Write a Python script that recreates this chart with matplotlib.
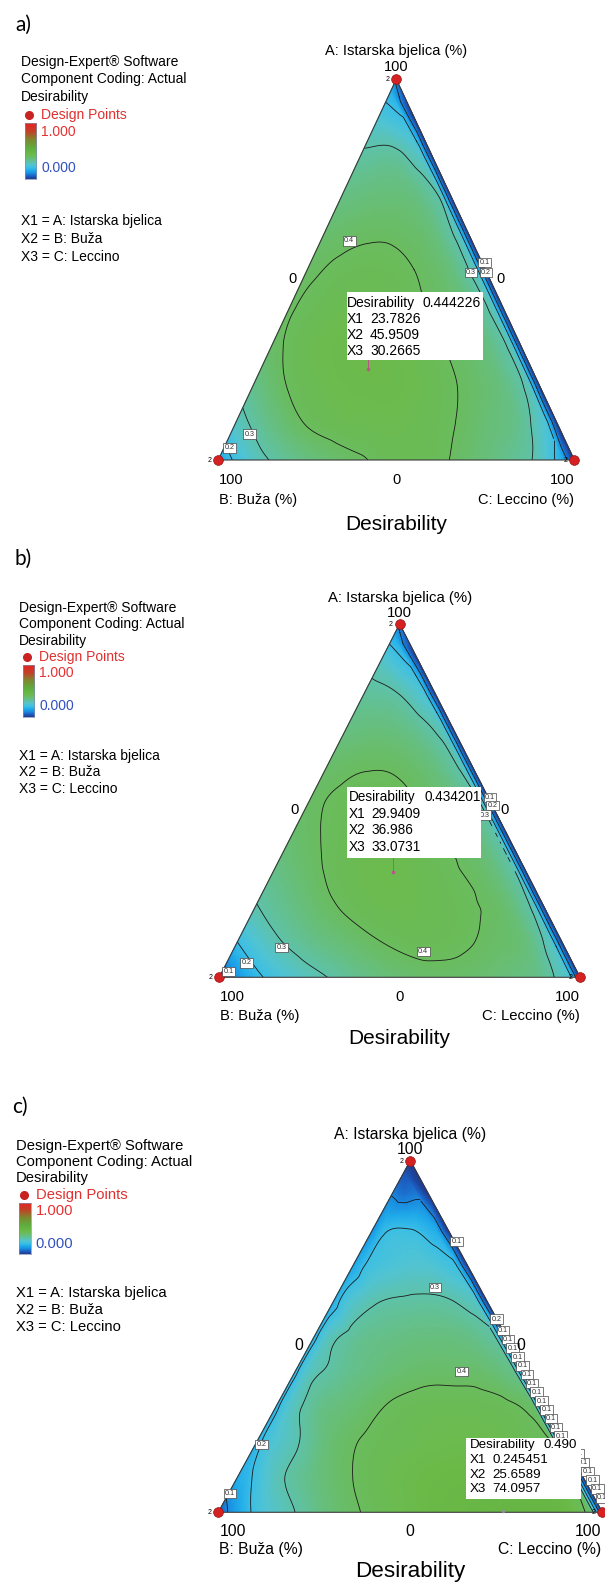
import numpy as np
import matplotlib
matplotlib.use("Agg")
import matplotlib.pyplot as plt
import matplotlib.tri as mtri
from matplotlib.colors import LinearSegmentedColormap
from matplotlib.patches import Rectangle

plt.rcParams['font.family'] = ['Liberation Sans', 'DejaVu Sans']

FIG_W, FIG_H = 605, 1588

# ---------------- data ----------------
# desirability on a 10 % simplex lattice:
# row i -> A = i/10, entry j -> C = j/10, B = 1 - A - C
desir_a = [
    [0.15, 0.27, 0.33, 0.37, 0.395, 0.42, 0.415, 0.38, 0.34, 0.28, 0.0],
    [0.27, 0.35, 0.405, 0.425, 0.43, 0.425, 0.405, 0.37, 0.33, 0.0],
    [0.34, 0.405, 0.43, 0.44, 0.44, 0.42, 0.39, 0.35, 0.0],
    [0.385, 0.425, 0.44, 0.44, 0.425, 0.395, 0.355, 0.0],
    [0.395, 0.42, 0.43, 0.42, 0.395, 0.36, 0.0],
    [0.39, 0.41, 0.415, 0.40, 0.36, 0.0],
    [0.375, 0.39, 0.39, 0.36, 0.0],
    [0.345, 0.36, 0.35, 0.0],
    [0.31, 0.315, 0.0],
    [0.24, 0.0],
    [0.08],
]
desir_b = [
    [0.05, 0.18, 0.255, 0.30, 0.34, 0.37, 0.385, 0.38, 0.36, 0.33, 0.0],
    [0.20, 0.285, 0.335, 0.37, 0.40, 0.415, 0.41, 0.39, 0.36, 0.0],
    [0.295, 0.345, 0.39, 0.42, 0.43, 0.42, 0.405, 0.37, 0.0],
    [0.34, 0.385, 0.42, 0.434, 0.425, 0.405, 0.37, 0.0],
    [0.375, 0.405, 0.425, 0.425, 0.405, 0.37, 0.0],
    [0.39, 0.41, 0.415, 0.40, 0.36, 0.0],
    [0.38, 0.395, 0.39, 0.35, 0.0],
    [0.35, 0.36, 0.33, 0.0],
    [0.32, 0.30, 0.0],
    [0.26, 0.0],
    [0.08],
]
desir_c = [
    [0.05, 0.22, 0.30, 0.37, 0.41, 0.44, 0.465, 0.48, 0.485, 0.47, 0.0],
    [0.16, 0.28, 0.35, 0.40, 0.43, 0.45, 0.46, 0.465, 0.455, 0.0],
    [0.175, 0.29, 0.375, 0.41, 0.425, 0.435, 0.435, 0.42, 0.0],
    [0.18, 0.33, 0.37, 0.405, 0.42, 0.42, 0.41, 0.0],
    [0.18, 0.315, 0.355, 0.38, 0.385, 0.375, 0.0],
    [0.175, 0.32, 0.345, 0.355, 0.345, 0.0],
    [0.165, 0.29, 0.31, 0.305, 0.0],
    [0.15, 0.24, 0.25, 0.0],
    [0.12, 0.205, 0.0],
    [0.10, 0.0],
    [0.0],
]
# desirability 3 % inside the B = 0 side, for A = 0.0 ... 0.9 and 0.97
near_b_a = [0.15, 0.24, 0.285, 0.29, 0.285, 0.28, 0.285, 0.295, 0.26, 0.20, 0.17]
near_b_b = [0.25, 0.27, 0.29, 0.30, 0.30, 0.30, 0.29, 0.28, 0.24, 0.19, 0.16]
near_b_c = [0.38, 0.40, 0.40, 0.39, 0.34, 0.31, 0.27, 0.21, 0.16, 0.09, 0.04]
# panel c only: 3 % inside the C = 0 side, for A = 0.0 ... 0.9
near_c_c = [0.11, 0.19, 0.23, 0.25, 0.26, 0.26, 0.23, 0.20, 0.19, 0.08]

# optimum shown in the flag: Desirability, X1 (A), X2 (B), X3 (C)
opt_names = ["Desirability", "X1", "X2", "X3"]
opt_a = ["0.444226", "23.7826", "45.9509", "30.2665"]
opt_b = ["0.434201", "29.9409", "36.986", "33.0731"]
opt_c = ["0.490", "0.245451", "25.6589", "74.0957"]

contour_levels = [0.1, 0.2, 0.3, 0.4]

# colour ramp of the desirability scale (blue - green - red)
desir_colors = [(0.00, '#1f3c8f'), (0.05, '#1c5cbf'), (0.10, '#1a8be0'),
                (0.15, '#1faaea'), (0.20, '#3bbfe6'), (0.25, '#52c4d2'),
                (0.30, '#5ec2aa'), (0.35, '#66bf82'), (0.40, '#6abc5e'),
                (0.45, '#6bba48'), (0.55, '#5fae3e'), (0.70, '#7c8a30'),
                (0.85, '#c24228'), (1.00, '#e62222')]
cmap = LinearSegmentedColormap.from_list('desir', desir_colors)

fig = plt.figure(figsize=(FIG_W / 100, FIG_H / 100), dpi=100)


def tern_xy(a, c):
    # A at the top, B bottom left, C bottom right
    return c + np.asarray(a) / 2.0, np.asarray(a)


def refine(A, C, Z, cubic):
    x, y = tern_xy(np.array(A, float), np.array(C, float))
    tri = mtri.Triangulation(x, y)
    Z = np.array(Z, float)
    if cubic:
        interp = mtri.CubicTriInterpolator(tri, Z, kind='geom')
    else:
        interp = mtri.LinearTriInterpolator(tri, Z)
    return mtri.UniformTriRefiner(tri).refine_field(Z, triinterpolator=interp, subdiv=4)


def draw_triangle(geom, grid, near_b, near_c, labels, opt, box_bottom, ptr_color):
    xl, yb, w, h = geom
    ax = fig.add_axes([xl / FIG_W, (FIG_H - yb) / FIG_H, w / FIG_W, h / FIG_H])
    ax.set_xlim(0, 1)
    ax.set_ylim(0, 1)
    ax.axis('off')

    # inner part (smooth cubic) and the thin strip along B = 0 (linear)
    inner = ([], [], [])
    strip = ([], [], [])
    for i, row in enumerate(grid):
        for j, v in enumerate(row):
            dest = strip if j == len(row) - 1 else inner
            dest[0].append(i / 10)
            dest[1].append(j / 10)
            dest[2].append(v)
    for i, v in enumerate(near_b):
        a = min(i / 10, 0.97)
        for dest in (inner, strip):
            dest[0].append(a)
            dest[1].append(max(0.97 - a, 0.0))
            dest[2].append(v)
    if near_c is not None:
        for i, v in enumerate(near_c):
            inner[0].append(i / 10)
            inner[1].append(0.03)
            inner[2].append(v)

    fields = [refine(*inner, cubic=True), refine(*strip, cubic=False)]
    for tri_f, z_f in fields:
        ax.tripcolor(tri_f, z_f, cmap=cmap, vmin=0, vmax=1, shading='gouraud')
    for tri_f, z_f in fields:
        ax.tricontour(tri_f, z_f, levels=contour_levels, colors='#1a1a1a', linewidths=0.6)

    # outline and design points
    tx, ty = tern_xy([0, 0, 1, 0], [0, 1, 0, 0])
    ax.plot(tx, ty, color='#3a3a3a', lw=0.8, clip_on=False)
    ax.plot(tx[:3], ty[:3], 'o', ms=7, mfc='#d42222', mec='#9a1010', mew=0.5,
            clip_on=False, zorder=5)
    for px, py in zip(tx[:3], ty[:3]):
        ax.annotate('2', (px, py), xytext=(-5, -0.5), textcoords='offset points',
                    fontsize=5, ha='right', va='center', annotation_clip=False)

    # contour labels
    for s, la, lc, dx in labels:
        lx, ly = tern_xy(la, lc)
        ax.text(lx + dx, ly, s, fontsize=5.2, ha='center', va='center', color='#333333',
                bbox=dict(boxstyle='square,pad=0.18', fc='white', ec='#444444', lw=0.5),
                clip_on=False, zorder=6)

    # pointer from the optimum to the flag
    xo, yo = tern_xy(float(opt[1]) / 100, float(opt[3]) / 100)
    ax.plot([xo, xo], [yo, (yb - box_bottom) / h], color=ptr_color, lw=0.7, clip_on=False)
    ax.plot([xo], [yo], 'o', ms=1.5, color=ptr_color, clip_on=False)
    return ax


# contour label positions (text, A, C, x shift)
labels_a = [("0.4", 0.576, 0.08, 0), ("0.1", 0.519, 0.488, 0), ("0.3", 0.493, 0.463, 0),
            ("0.2", 0.493, 0.505, 0), ("0.3", 0.068, 0.053, 0), ("0.2", 0.032, 0.015, 0)]
labels_b = [("0.1", 0.509, 0.496, 0), ("0.2", 0.486, 0.514, 0), ("0.3", 0.459, 0.507, 0),
            ("0.4", 0.0725, 0.529, 0), ("0.3", 0.084, 0.131, 0), ("0.2", 0.041, 0.055, 0),
            ("0.1", 0.016, 0.017, 0)]
labels_c = [("0.1", 0.77, 0.236, 0), ("0.3", 0.639, 0.245, 0), ("0.4", 0.40, 0.434, 0),
            ("0.2", 0.549, 0.45, 0), ("0.2", 0.193, 0.016, 0), ("0.1", 0.054, 0.0035, 0)]
# run of 0.1 tags stacked down the right side of panel c
for k in range(20):
    la = 0.5165 - 0.025 * k
    labels_c.append(("0.1", la, 1 - la, 0.02 if la < 0.2 else 0))

panels = [
    dict(geom=(218.3, 460.0, 356.0, 380.7), grid=desir_a, near_b=near_b_a, near_c=None,
         labels=labels_a, opt=opt_a, tag='a)', tag_xy=(15, 25),
         leg=(21, 62, 1.08, 10), tri_fs=10.5, big_fs=15, top_off=(28.6, 12.6),
         bot_off=(20, 40, 64), c_right=0,
         box=(346.7, 291.7, 136.6, 68.3), box_txt=(347, 370, 422.3, 302.7, 16.0, 10),
         ptr='#c0508a'),
    dict(geom=(219.3, 977.3, 360.7, 353.3), grid=desir_b, near_b=near_b_b, near_c=None,
         labels=labels_b, opt=opt_b, tag='b)', tag_xy=(15, 559),
         leg=(19, 608.3, 1.0, 10), tri_fs=10.7, big_fs=15, top_off=(25.7, 11.3),
         bot_off=(20, 38.7, 61), c_right=0,
         box=(346.7, 786.7, 134.3, 71.6), box_txt=(349, 371.7, 424.3, 796.7, 16.9, 9.8),
         ptr='#c0508a'),
    dict(geom=(218.3, 1512.3, 384.0, 351.6), grid=desir_c, near_b=near_b_c, near_c=near_c_c,
         labels=labels_c, opt=opt_c, tag='c)', tag_xy=(12, 1106.7),
         leg=(15.7, 1146, 1.0, 10.6), tri_fs=11.3, big_fs=16.2, top_off=(25.7, 10.7),
         bot_off=(18.7, 37, 59.4), c_right=-1.5,
         box=(466.0, 1437.7, 114.7, 61.3), box_txt=(470, 492.7, 543.3, 1445, 14.8, 9.6),
         ptr='#909090'),
]

for p in panels:
    bx, by, bw, bh = p['box']
    draw_triangle(p['geom'], p['grid'], p['near_b'], p['near_c'], p['labels'],
                  p['opt'], by + bh, p['ptr'])

# overlay in pixel units for all the text
ax0 = fig.add_axes([0, 0, 1, 1])
ax0.set_xlim(0, FIG_W)
ax0.set_ylim(FIG_H, 0)
ax0.axis('off')


def put(x, y, s, size, ha='left', color='black', **kw):
    ax0.text(x, y, s, fontsize=size, ha=ha, va='center', color=color, **kw)


leg_off = dict(coding=16, desir=32.4, dp=49, bar_top=56.7, bar_bot=108.4,
               one=65, zero=97.7, x1=147.4, x2=164, x3=180.7)

for p in panels:
    xl, yb, w, h = p['geom']
    xr = xl + w
    xt = xl + w / 2
    yt = yb - h

    put(p['tag_xy'][0], p['tag_xy'][1], p['tag'], 15, family=['Lato', 'DejaVu Sans'])

    # legend block
    lx, ly, s, fs = p['leg']
    put(lx, ly, "Design-Expert® Software", fs)
    put(lx, ly + leg_off['coding'] * s, "Component Coding: Actual", fs)
    put(lx, ly + leg_off['desir'] * s, "Desirability", fs)
    ax0.plot([lx + 8], [ly + leg_off['dp'] * s], 'o', ms=5.5, color='#c82222')
    put(lx + 20, ly + leg_off['dp'] * s, "Design Points", fs, color='#e03030')
    bt, bb = ly + leg_off['bar_top'] * s, ly + leg_off['bar_bot'] * s
    cax = fig.add_axes([(lx + 3.5) / FIG_W, (FIG_H - bb) / FIG_H, 11.5 / FIG_W, (bb - bt) / FIG_H])
    cax.imshow(np.linspace(0, 1, 256)[:, None], aspect='auto', cmap=cmap, origin='lower')
    cax.set_xticks([])
    cax.set_yticks([])
    for sp in cax.spines.values():
        sp.set_color('#8090b0')
        sp.set_linewidth(0.5)
    put(lx + 20, ly + leg_off['one'] * s, "1.000", fs, color='#e83030')
    put(lx + 20, ly + leg_off['zero'] * s, "0.000", fs, color='#3050c0')
    put(lx, ly + leg_off['x1'] * s, "X1 = A: Istarska bjelica", fs)
    put(lx, ly + leg_off['x2'] * s, "X2 = B: Buža", fs)
    put(lx, ly + leg_off['x3'] * s, "X3 = C: Leccino", fs)

    # axis captions around the triangle
    fs = p['tri_fs']
    put(xt, yt - p['top_off'][0], "A: Istarska bjelica (%)", fs, ha='center')
    put(xt, yt - p['top_off'][1], "100", fs, ha='center')
    ym = (yt + yb) / 2 + 9
    put((xl + xt) / 2 - 15, ym, "0", fs, ha='center')
    put((xr + xt) / 2 + 15, ym, "0", fs, ha='center')
    b1, b2, b3 = p['bot_off']
    put(xl + 1, yb + b1, "100", fs)
    put(xt, yb + b1, "0", fs, ha='center')
    put(xr + p['c_right'], yb + b1, "100", fs, ha='right')
    put(xl + 1, yb + b2, "B: Buža (%)", fs)
    put(xr + p['c_right'], yb + b2, "C: Leccino (%)", fs, ha='right')
    put(xt, yb + b3, "Desirability", p['big_fs'], ha='center')

    # optimum flag
    bx, by, bw, bh = p['box']
    ax0.add_patch(Rectangle((bx, by), bw, bh, fc='white', ec='none', zorder=3))
    tx0, tx1, tx2, ty0, dy, bfs = p['box_txt']
    for k, name in enumerate(opt_names):
        put(tx0, ty0 + k * dy, name, bfs, zorder=4)
        put(tx2 if k == 0 else tx1, ty0 + k * dy, p['opt'][k], bfs, zorder=4)

fig.savefig("out.png", dpi=100)
